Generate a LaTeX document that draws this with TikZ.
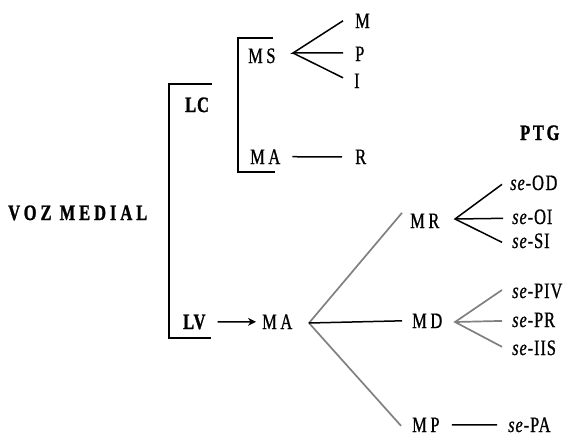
\documentclass[tikz,border=0pt]{standalone}
\usepackage{fontspec}
\setmainfont{Liberation Serif}[FakeStretch=0.75, LetterSpace=4]
\usetikzlibrary{arrows.meta}
\begin{document}
\begin{tikzpicture}[x=1pt,y=-1pt,
  lbl/.style={inner sep=0pt, anchor=base west, font=\fontsize{22}{24}\selectfont\addfontfeature{FakeBold=0.8}},
  blbl/.style={inner sep=0pt, anchor=base west, font=\fontsize{22}{24}\selectfont\bfseries\addfontfeature{FakeBold=1.2}},
  conn/.style={line width=1.5pt},
  gconn/.style={line width=1.7pt, draw=black!50},
  brk/.style={line width=2.6pt},
  ibrk/.style={line width=2.2pt}]
\useasboundingbox (0,0) rectangle (569,437);
% brackets
\draw[brk] (212,84) -- (169,84) -- (169,338) -- (211,338);
\draw[ibrk] (273,38) -- (238,38) -- (238,172) -- (275,172);
% labels
\node[blbl] (voz) at (8,220) {\addfontfeature{LetterSpace=18}VOZ MEDIAL};
\node[blbl] (lc) at (185,112) {LC};
\node[blbl] (lv) at (183,329) {LV};
\node[lbl] (ma0) at (262,329) {M\kern3.5pt A};
\node[lbl] (ms) at (248,63) {M\kern3.5pt S};
\node[lbl] (ma1) at (250,164) {M\kern3.5pt A};
\node[lbl] (m) at (355,28) {M};
\node[lbl] (p) at (355,61) {P};
\node[lbl] (i) at (354,88) {I};
\node[lbl] (r) at (355,164) {R};
\node[blbl] (ptg) at (520,140) {\addfontfeature{LetterSpace=12}PTG};
\node[lbl] (mr) at (410,228) {M\kern3.5pt R};
\node[lbl] (md) at (412,328) {M\kern3.5pt D};
\node[lbl] (mp) at (412,432) {M\kern3.5pt P};
\node[lbl] (seod) at (510,190) {\textit{se}-O\kern1.5pt D};
\node[lbl] (seoi) at (512,224) {\textit{se}-OI};
\node[lbl] (sesi) at (512,248) {\textit{se}-SI};
\node[lbl] (sepiv) at (512,298) {\textit{se}-PIV};
\node[lbl] (sepr) at (512,327) {\textit{se}-PR};
\node[lbl] (seiis) at (512,355) {\textit{se}-IIS};
\node[lbl] (sepa) at (508,432) {\textit{se}-PA};
% fan apexes
\coordinate (msA) at (293,53);
\coordinate (maA) at (309,323);
\coordinate (mrA) at (455,219);
\coordinate (mdA) at (455,322);
% MS fan
\draw[conn] ([shift={(-12,0)}]m.west) -- (msA) -- ([shift={(-12,-1)}]p.west);
\draw[conn] (msA) -- ([shift={(-11,-3)}]i.west);
% MA -- R
\draw[conn] ([shift={(12,0)}]ma1.east) -- ([shift={(-13,0)}]r.west);
% LV -> MA
\draw[conn, -{Stealth[length=8pt,width=8pt]}] ([shift={(12,0)}]lv.east) -- ([shift={(-6,0)}]ma0.west);
% main fan
\draw[gconn] ([shift={(-8,-8)}]mr.west) -- (maA) -- ([shift={(-11,1)}]mp.west);
\draw[conn] (maA) -- ([shift={(-10,0)}]md.west);
% MR fan
\draw[conn] ([shift={(-8,1.5)}]seod.west) -- (mrA) -- ([shift={(-10,1.5)}]sesi.west);
\draw[conn] (mrA) -- ([shift={(-9,1.5)}]seoi.west);
% MD fan
\draw[gconn] ([shift={(-10,-1)}]sepiv.west) -- (mdA) -- ([shift={(-10,-1)}]seiis.west);
\draw[gconn] (mdA) -- ([shift={(-10,1)}]sepr.west);
% MP -- se-PA
\draw[conn] ([shift={(12,0)}]mp.east) -- ([shift={(-11,0)}]sepa.west);
\end{tikzpicture}
\end{document}
